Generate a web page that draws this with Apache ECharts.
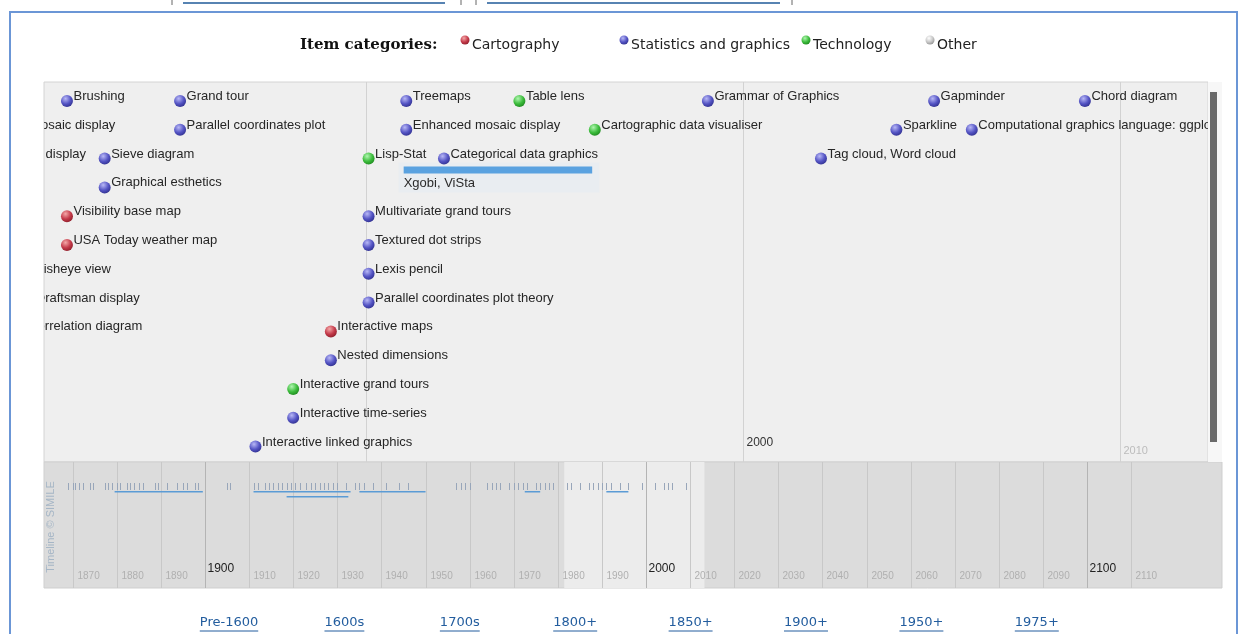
<!DOCTYPE html>
<html>
<head>
<meta charset="utf-8">
<script src="https://cdn.jsdelivr.net/npm/echarts@6/dist/echarts.min.js"></script>
<style>
  html, body { margin: 0; padding: 0; background: #fff; }
  #chart { width: 1242px; height: 634px; }
</style>
</head>
<body>
<div id="chart"></div>
<script>
// categories shown in the legend
const categories = ['Cartography', 'Statistics and graphics', 'Technology', 'Other']

// events in the detail band (track = row from the top)
const eventNames = [
  'Brushing', 'Grand tour', 'Treemaps', 'Table lens', 'Grammar of Graphics', 'Gapminder', 'Chord diagram',
  'Mosaic display', 'Parallel coordinates plot', 'Enhanced mosaic display', 'Cartographic data visualiser', 'Sparkline', 'Computational graphics language: ggplot',
  'Fourfold display', 'Sieve diagram', 'Lisp-Stat', 'Categorical data graphics', 'Tag cloud, Word cloud',
  'Graphical esthetics',
  'Visibility base map', 'Multivariate grand tours',
  'USA Today weather map', 'Textured dot strips',
  'Fisheye view', 'Lexis pencil',
  'Draftsman display', 'Parallel coordinates plot theory',
  'Correlation diagram', 'Interactive maps',
  'Nested dimensions',
  'Interactive grand tours',
  'Interactive time-series',
  'Interactive linked graphics'
]
const eventYears = [
  1982, 1985, 1991, 1994, 1999, 2005, 2009,
  1980.85, 1985, 1991, 1996, 2004, 2006,
  1979.9, 1983, 1990, 1992, 2002,
  1983,
  1982, 1990,
  1982, 1990,
  1981, 1990,
  1981, 1990,
  1980.8, 1989,
  1989,
  1988,
  1988,
  1987
]
const eventRows = [
  0, 0, 0, 0, 0, 0, 0,
  1, 1, 1, 1, 1, 1,
  2, 2, 2, 2, 2,
  3,
  4, 4,
  5, 5,
  6, 6,
  7, 7,
  8, 8,
  9,
  10,
  11,
  12
]
const eventCats = [
  1, 1, 1, 2, 1, 1, 1,
  1, 1, 1, 2, 1, 1,
  1, 1, 2, 1, 1,
  1,
  0, 1,
  0, 1,
  1, 1,
  1, 1,
  1, 0,
  1,
  2,
  1,
  1
]

// duration events in the detail band
const spanNames = ['Xgobi, ViSta']
const spanStart = [1991]
const spanEnd = [1996]
const spanRows = [3]

// detail band year lines
const detailTicks = [1990, 2000, 2010]

// overview band: decades, events outside the detail window, durations
const overviewDecades = [1870, 1880, 1890, 1900, 1910, 1920, 1930, 1940, 1950, 1960, 1970, 1980, 1990,
  2000, 2010, 2020, 2030, 2040, 2050, 2060, 2070, 2080, 2090, 2100, 2110]
const otherEventYears = [
  1869, 1870, 1870.6, 1871.5, 1872.3, 1874, 1874.7, 1877.4, 1878, 1879, 1880, 1880.7, 1882.4, 1883,
  1883.8, 1885, 1886, 1888.7, 1889.4, 1891.4, 1893.7, 1895, 1896, 1897.7, 1898.4, 1905, 1905.6,
  1911, 1912, 1913.5, 1914.5, 1915.5, 1916.5, 1917.5, 1918.5, 1919.5, 1920.5, 1921.5, 1923, 1924,
  1925, 1926, 1927, 1928, 1929, 1930, 1932, 1934, 1935, 1936, 1938, 1941, 1944, 1946,
  1957, 1958, 1959, 1960, 1964, 1965, 1966, 1967, 1969, 1970, 1971, 1972, 1973, 1975, 1976,
  1977, 1978, 1979
]
const otherSpanStart = [1879.5, 1911, 1935, 1918.5, 1972.5]
const otherSpanEnd = [1899.5, 1933, 1950, 1932.5, 1976]
const otherSpanRows = [0, 0, 0, 1, 0]

// links below the timeline
const navLinks = ['Pre-1600', '1600s', '1700s', '1800+', '1850+', '1900+', '1950+', '1975+']

// ---------- drawing ----------
const DETAIL_MIN = 1981.46
const DETAIL_MAX = 2012.334
const LABEL_FONT = '13px "Liberation Sans", Arial, sans-serif'

const BALL = [
  ['#f4a8a8', '#c43a4a', '#861a26'],
  ['#b8b8f6', '#5454c4', '#2a2a86'],
  ['#b0f6b0', '#3cbc3c', '#1a801a'],
  ['#ffffff', '#c6c6c6', '#8a8a8a']
]
function ballFill(c) {
  const b = BALL[c]
  return {
    type: 'radial', x: 0.38, y: 0.3, r: 0.8,
    colorStops: [{ offset: 0, color: b[0] }, { offset: 0.55, color: b[1] }, { offset: 1, color: b[2] }]
  }
}

const measureCtx = document.createElement('canvas').getContext('2d')
function textWidth(t, font) {
  measureCtx.font = font
  return measureCtx.measureText(t).width
}

const graphics = []

// page frame and the cut-off links at the very top
graphics.push({ type: 'rect', shape: { x: 10, y: 12, width: 1227, height: 700 }, style: { fill: 'none', stroke: '#6b96d6', lineWidth: 2 }, z: 100 })
;[[183, 445], [487, 780]].forEach(s => {
  graphics.push({ type: 'line', shape: { x1: s[0], y1: 3, x2: s[1], y2: 3 }, style: { stroke: '#1f5a99', lineWidth: 1.5 } })
})
;[172, 461, 476, 792].forEach(x => {
  graphics.push({ type: 'line', shape: { x1: x, y1: 0, x2: x, y2: 5 }, style: { stroke: '#666', lineWidth: 1 } })
})

// legend
graphics.push({ type: 'text', style: { text: 'Item categories:', x: 300, y: 45, font: 'bold 15px "DejaVu Serif", serif', fill: '#111', textVerticalAlign: 'middle' } })
const legendBallX = [465, 624, 806, 930]
categories.forEach((c, i) => {
  graphics.push({ type: 'circle', shape: { cx: legendBallX[i], cy: 40, r: 4.5 }, style: { fill: ballFill(i) } })
  graphics.push({ type: 'text', style: { text: c, x: legendBallX[i] + 7, y: 45, font: '14px "DejaVu Sans", Verdana, sans-serif', fill: '#222', textVerticalAlign: 'middle' } })
})

// scrollbar of the detail band
graphics.push({ type: 'rect', shape: { x: 1208, y: 82, width: 14, height: 380 }, style: { fill: '#f7f7f7' } })
graphics.push({ type: 'rect', shape: { x: 1210, y: 92, width: 7, height: 350 }, style: { fill: '#6a6a6a' } })

// vertical credit in the overview band
graphics.push({ type: 'text', x: 51, y: 527, rotation: Math.PI / 2, style: { text: 'Timeline © SIMILE', font: '11px "Liberation Sans", Arial, sans-serif', fill: '#a6b6c6', textAlign: 'center', textVerticalAlign: 'middle' } })

// links
navLinks.forEach((t, i) => {
  const font = '13px "DejaVu Sans", Verdana, sans-serif'
  const cx = 229 + i * 115.4
  const w = textWidth(t, font)
  graphics.push({ type: 'text', style: { text: t, x: cx, y: 623, font, fill: '#235d9e', textAlign: 'center', textVerticalAlign: 'middle' } })
  graphics.push({ type: 'line', shape: { x1: cx - w / 2, y1: 631, x2: cx + w / 2, y2: 631 }, style: { stroke: '#235d9e', lineWidth: 1 } })
})

const eventData = eventYears.map((y, i) => [y, eventRows[i], eventCats[i], i])
const spanData = spanStart.map((s, i) => [s, spanRows[i], spanEnd[i], i])
const overviewTicks = eventYears.filter(y => y >= DETAIL_MIN).concat(otherEventYears).map(y => [y, 0])
const overviewSpans = otherSpanStart.map((s, i) => [s, otherSpanRows[i], otherSpanEnd[i]])
  .concat(spanStart.map((s, i) => [s, 0, spanEnd[i]]))

const option = {
  animation: false,
  backgroundColor: '#fff',
  grid: [
    { left: 44, top: 82, width: 1164, height: 380, show: true, backgroundColor: '#efefef', borderColor: '#d4d4d4', borderWidth: 1 },
    { left: 44, top: 462, width: 1178, height: 126, show: true, backgroundColor: '#dcdcdc', borderColor: '#cfcfcf', borderWidth: 1 }
  ],
  xAxis: [
    { type: 'value', gridIndex: 0, min: DETAIL_MIN, max: DETAIL_MAX, show: false },
    { type: 'value', gridIndex: 1, min: 1863.49, max: 2130.6, show: false }
  ],
  yAxis: [
    { type: 'value', gridIndex: 0, min: -0.66, max: 12.535, inverse: true, show: false },
    { type: 'value', gridIndex: 1, min: 0, max: 1, show: false }
  ],
  graphic: { elements: graphics },
  series: [
    // detail band year lines
    {
      type: 'custom', xAxisIndex: 0, yAxisIndex: 0, clip: true, silent: true,
      data: detailTicks.map(t => [t, 0]),
      encode: { x: 0, y: 1 },
      renderItem(params, api) {
        const cs = params.coordSys
        const t = api.value(0)
        const x = Math.round(api.coord([t, 0])[0]) + 0.5
        const children = [{ type: 'line', shape: { x1: x, y1: cs.y, x2: x, y2: cs.y + cs.height }, style: { stroke: '#d2d2d2', lineWidth: 1 } }]
        if (t === 2000) children.push({ type: 'text', style: { text: String(t), x: x + 3, y: 443, font: '12px "Liberation Sans", Arial, sans-serif', fill: '#333', textVerticalAlign: 'middle' } })
        if (t === 2010) children.push({ type: 'text', style: { text: String(t), x: x + 3, y: 451, font: '11px "Liberation Sans", Arial, sans-serif', fill: '#bcbcbc', textVerticalAlign: 'middle' } })
        return { type: 'group', children }
      }
    },
    // duration events
    {
      type: 'custom', xAxisIndex: 0, yAxisIndex: 0, clip: true, silent: true,
      data: spanData,
      encode: { x: [0, 2], y: 1 },
      renderItem(params, api) {
        const a = api.coord([api.value(0), api.value(1)])
        const b = api.coord([api.value(2), api.value(1)])
        return {
          type: 'group', children: [
            { type: 'rect', shape: { x: a[0] - 5, y: a[1] - 25, width: b[0] - a[0] + 12, height: 30 }, style: { fill: '#e4ecf4', opacity: 0.5 } },
            { type: 'rect', shape: { x: a[0], y: a[1] - 21, width: b[0] - a[0], height: 7 }, style: { fill: '#5aa2e0' } },
            { type: 'text', style: { text: spanNames[api.value(3)], x: a[0], y: a[1] - 3.5, font: LABEL_FONT, fill: '#2b2b2b', textVerticalAlign: 'middle' } }
          ]
        }
      }
    },
    // instant events
    {
      type: 'custom', xAxisIndex: 0, yAxisIndex: 0, clip: true, silent: true,
      data: eventData,
      encode: { x: 0, y: 1 },
      renderItem(params, api) {
        const p = api.coord([api.value(0), api.value(1)])
        const cx = p[0] + 2.6
        return {
          type: 'group', children: [
            { type: 'circle', shape: { cx, cy: p[1], r: 6 }, style: { fill: ballFill(api.value(2)) } },
            { type: 'text', style: { text: eventNames[api.value(3)], x: cx + 6.5, y: p[1] - 4.5, font: LABEL_FONT, fill: '#262626', textVerticalAlign: 'middle' } }
          ]
        }
      }
    },
    // overview: highlighted detail window
    {
      type: 'custom', xAxisIndex: 1, yAxisIndex: 1, clip: true, silent: true,
      data: [[DETAIL_MIN, 0, DETAIL_MAX]],
      encode: { x: [0, 2], y: 1 },
      renderItem(params, api) {
        const cs = params.coordSys
        const a = api.coord([api.value(0), 0])[0]
        const b = api.coord([api.value(2), 0])[0]
        return { type: 'rect', shape: { x: a, y: cs.y, width: b - a + 4, height: cs.height }, style: { fill: '#ececec' } }
      }
    },
    // overview: decade lines and labels
    {
      type: 'custom', xAxisIndex: 1, yAxisIndex: 1, clip: true, silent: true,
      data: overviewDecades.map(d => [d, 0]),
      encode: { x: 0, y: 1 },
      renderItem(params, api) {
        const cs = params.coordSys
        const d = api.value(0)
        const x = Math.round(api.coord([d, 0])[0]) + 0.5
        const century = d % 100 === 0
        return {
          type: 'group', children: [
            { type: 'line', shape: { x1: x, y1: cs.y, x2: x, y2: cs.y + cs.height }, style: { stroke: century ? '#b4b4b4' : '#c8c8c8', lineWidth: 1 } },
            century
              ? { type: 'text', style: { text: String(d), x: x + 2, y: cs.y + 107, font: '12px "Liberation Sans", Arial, sans-serif', fill: '#222', textVerticalAlign: 'middle' } }
              : { type: 'text', style: { text: String(d), x: x + 4, y: cs.y + 114, font: '10px "Liberation Sans", Arial, sans-serif', fill: '#b0b0b0', textVerticalAlign: 'middle' } }
          ]
        }
      }
    },
    // overview: event ticks
    {
      type: 'custom', xAxisIndex: 1, yAxisIndex: 1, clip: true, silent: true,
      data: overviewTicks,
      encode: { x: 0, y: 1 },
      renderItem(params, api) {
        const cs = params.coordSys
        const x = Math.round(api.coord([api.value(0), 0])[0])
        return { type: 'rect', shape: { x, y: cs.y + 21, width: 1, height: 7 }, style: { fill: '#98a6ba' } }
      }
    },
    // overview: durations
    {
      type: 'custom', xAxisIndex: 1, yAxisIndex: 1, clip: true, silent: true,
      data: overviewSpans,
      encode: { x: [0, 2], y: 1 },
      renderItem(params, api) {
        const cs = params.coordSys
        const a = api.coord([api.value(0), 0])[0]
        const b = api.coord([api.value(2), 0])[0]
        const y = cs.y + 29 + api.value(1) * 5
        return { type: 'rect', shape: { x: a, y, width: b - a, height: 1.5 }, style: { fill: '#5b9bd5' } }
      }
    }
  ]
}

const chart = echarts.init(document.getElementById('chart'))
chart.setOption(option)
</script>
</body>
</html>
